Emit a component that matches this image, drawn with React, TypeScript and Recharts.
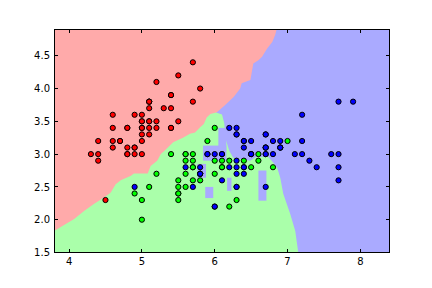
import { Area, CartesianGrid, ComposedChart, Scatter, XAxis, YAxis } from "recharts";

const xTicks = [4, 5, 6, 7, 8];
const yTicks = [1.5, 2.0, 2.5, 3.0, 3.5, 4.0, 4.5];
const xDomain = [3.8, 8.4];
const yDomain = [1.5, 4.9];

// iris: sepal length / sepal width
const setosaLength = [
  5.1, 4.9, 4.7, 4.6, 5.0, 5.4, 4.6, 5.0, 4.4, 4.9, 5.4, 4.8, 4.8, 4.3, 5.8, 5.7, 5.4, 5.1, 5.7, 5.1,
  5.4, 5.1, 4.6, 5.1, 4.8, 5.0, 5.0, 5.2, 5.2, 4.7, 4.8, 5.4, 5.2, 5.5, 4.9, 5.0, 5.5, 4.9, 4.4, 5.1,
  5.0, 4.5, 4.4, 5.0, 5.1, 4.8, 5.1, 4.6, 5.3, 5.0,
];
const setosaWidth = [
  3.5, 3.0, 3.2, 3.1, 3.6, 3.9, 3.4, 3.4, 2.9, 3.1, 3.7, 3.4, 3.0, 3.0, 4.0, 4.4, 3.9, 3.5, 3.8, 3.8,
  3.4, 3.7, 3.6, 3.3, 3.4, 3.0, 3.4, 3.5, 3.4, 3.2, 3.1, 3.4, 4.1, 4.2, 3.1, 3.2, 3.5, 3.6, 3.0, 3.4,
  3.5, 2.3, 3.2, 3.5, 3.8, 3.0, 3.8, 3.2, 3.7, 3.3,
];
const versicolorLength = [
  7.0, 6.4, 6.9, 5.5, 6.5, 5.7, 6.3, 4.9, 6.6, 5.2, 5.0, 5.9, 6.0, 6.1, 5.6, 6.7, 5.6, 5.8, 6.2, 5.6,
  5.9, 6.1, 6.3, 6.1, 6.4, 6.6, 6.8, 6.7, 6.0, 5.7, 5.5, 5.5, 5.8, 6.0, 5.4, 6.0, 6.7, 6.3, 5.6, 5.5,
  5.5, 6.1, 5.8, 5.0, 5.6, 5.7, 5.7, 6.2, 5.1, 5.7,
];
const versicolorWidth = [
  3.2, 3.2, 3.1, 2.3, 2.8, 2.8, 3.3, 2.4, 2.9, 2.7, 2.0, 3.0, 2.2, 2.9, 2.9, 3.1, 3.0, 2.7, 2.2, 2.5,
  3.2, 2.8, 2.5, 2.8, 2.9, 3.0, 2.8, 3.0, 2.9, 2.6, 2.4, 2.4, 2.7, 2.7, 3.0, 3.4, 3.1, 2.3, 3.0, 2.5,
  2.6, 3.0, 2.6, 2.3, 2.7, 3.0, 2.9, 2.9, 2.5, 2.8,
];
const virginicaLength = [
  6.3, 5.8, 7.1, 6.3, 6.5, 7.6, 4.9, 7.3, 6.7, 7.2, 6.5, 6.4, 6.8, 5.7, 5.8, 6.4, 6.5, 7.7, 7.7, 6.0,
  6.9, 5.6, 7.7, 6.3, 6.7, 7.2, 6.2, 6.1, 6.4, 7.2, 7.4, 7.9, 6.4, 6.3, 6.1, 7.7, 6.3, 6.4, 6.0, 6.9,
  6.7, 6.9, 5.8, 6.8, 6.7, 6.7, 6.3, 6.5, 6.2, 5.9,
];
const virginicaWidth = [
  3.3, 2.7, 3.0, 2.9, 3.0, 3.0, 2.5, 2.9, 2.5, 3.6, 3.2, 2.7, 3.0, 2.5, 2.8, 3.2, 3.0, 3.8, 2.6, 2.2,
  3.2, 2.8, 2.8, 2.7, 3.3, 3.2, 2.8, 3.0, 2.8, 3.0, 2.8, 3.8, 2.8, 2.8, 2.6, 3.0, 3.4, 3.1, 3.0, 3.1,
  3.1, 3.1, 2.7, 3.2, 3.3, 3.0, 2.5, 3.0, 3.4, 3.0,
];

// lower edge of the red region (red/green, then red/blue)
const redEdgeX = [
  3.8, 3.885, 4.07, 4.21, 4.34, 4.48, 4.57, 4.64, 4.71, 4.85, 4.89, 5.08, 5.12, 5.21, 5.26, 5.31, 5.43,
  5.57, 5.66, 5.73, 5.8, 5.85, 5.89, 5.94, 6.03, 6.14, 6.26, 6.35, 6.37, 6.49, 6.51, 6.53, 6.6, 6.65,
  6.72, 6.79, 6.83, 6.85,
];
const redEdgeY = [
  1.83, 1.89, 2.01, 2.135, 2.24, 2.34, 2.41, 2.54, 2.6, 2.67, 2.705, 2.705, 2.82, 2.9, 3.0, 3.05, 3.18,
  3.255, 3.31, 3.33, 3.41, 3.46, 3.56, 3.61, 3.64, 3.745, 3.87, 4.0, 4.08, 4.13, 4.255, 4.38, 4.43,
  4.485, 4.61, 4.71, 4.815, 4.9,
];

// upper edge of the green region to the right of the red one
const greenEdgeX = [6.02, 6.1, 6.13, 6.157, 6.2, 6.254, 6.487, 6.57, 6.735, 6.817, 6.858, 6.9, 6.941, 7.037, 7.106, 7.147];
const greenEdgeY = [3.633, 3.603, 3.48, 3.205, 3.052, 2.945, 2.899, 2.96, 2.96, 2.853, 2.792, 2.639, 2.394, 2.088, 1.829, 1.5];

// blue patches inside the green region: [x0, x1, y0, y1]
const blueIslands = [
  [5.84, 6.16, 2.9, 3.13],
  [6.05, 6.16, 3.05, 3.4],
  [5.76, 5.88, 2.64, 2.85],
  [5.87, 5.98, 2.33, 2.5],
  [6.6, 6.71, 2.29, 2.75],
  [6.17, 6.23, 2.44, 2.64],
];

const zip = (xs: number[], ys: number[]) => xs.map((x, i) => ({ x, y: ys[i] }));

const redData = redEdgeX.map((x, i) => ({ x, band: [redEdgeY[i], yDomain[1]] }));
const greenData = [
  { x: xDomain[0], band: [yDomain[0], yDomain[1]] },
  { x: 5.99, band: [yDomain[0], yDomain[1]] },
  ...greenEdgeX.map((x, i) => ({ x, band: [yDomain[0], greenEdgeY[i]] })),
  { x: xDomain[1], band: [yDomain[0], yDomain[0]] },
];
const islandData = blueIslands.map(([x0, x1, y0, y1]) => [
  { x: x0, band: [y0, y1] },
  { x: x1, band: [y0, y1] },
]);

// frame corners and tick anchors on the four sides
const topLeft = [{ x: xDomain[0], y: yDomain[1] }];
const bottomRight = [{ x: xDomain[1], y: yDomain[0] }];
const topTicks = xTicks.map((x) => ({ x, y: yDomain[1] }));
const bottomTicks = xTicks.map((x) => ({ x, y: yDomain[0] }));
const leftTicks = yTicks.map((y) => ({ x: xDomain[0], y }));
const rightTicks = yTicks.map((y) => ({ x: xDomain[1], y }));

// layout
const CHART_W = 432;
const CHART_H = 288;
const margin = { top: 29.5, right: 42.5, bottom: 15.5, left: 14.5 };
const X_AXIS_H = 20;
const Y_AXIS_W = 40;
const PLOT_W = CHART_W - margin.left - margin.right - Y_AXIS_W;
const PLOT_H = CHART_H - margin.top - margin.bottom - X_AXIS_H;

const font = "DejaVu Sans, sans-serif";

const dot = (color: string) => (p: any) =>
  <circle cx={p.cx} cy={p.cy} r={2.6} fill={color} stroke="#000" strokeWidth={1} />;

// filled 1px bars instead of stroked lines
const bar = (dx: number, dy: number, w: number, h: number) => (p: any) =>
  <rect x={Math.floor(p.cx) + dx} y={Math.floor(p.cy) + dy} width={w} height={h} fill="#000" stroke="none" />;

const TopLeftFrame = (p: any) => (
  <g fill="#000" stroke="none">
    <rect x={Math.floor(p.cx)} y={Math.floor(p.cy)} width={PLOT_W + 1} height={1} />
    <rect x={Math.floor(p.cx)} y={Math.floor(p.cy)} width={1} height={PLOT_H + 1} />
  </g>
);
const BottomRightFrame = (p: any) => (
  <g fill="#000" stroke="none">
    <rect x={Math.floor(p.cx) - PLOT_W} y={Math.floor(p.cy)} width={PLOT_W + 1} height={1} />
    <rect x={Math.floor(p.cx)} y={Math.floor(p.cy) - PLOT_H} width={1} height={PLOT_H + 1} />
  </g>
);

const BottomTick = (p: any) => (
  <text x={p.x} y={p.y + 12.5} textAnchor="middle" fontSize={10} fontFamily={font} fill="#000">
    {p.payload.value}
  </text>
);
const LeftTick = (p: any) => (
  <text x={p.x - 4.5} y={p.y + 3.6} textAnchor="end" fontSize={10} fontFamily={font} fill="#000">
    {p.payload.value.toFixed(1)}
  </text>
);

export default function App() {
  return (
    <div style={{ position: "absolute", left: 0, top: 0, width: CHART_W, height: CHART_H, background: "#fff" }}>
      <ComposedChart width={CHART_W} height={CHART_H} margin={margin}>
        <CartesianGrid fill="#AAAAFF" stroke="none" />
        <Area data={greenData} dataKey="band" type="linear" stroke="none" fill="#AAFFAA" fillOpacity={1} isAnimationActive={false} />
        <Area data={redData} dataKey="band" type="linear" stroke="none" fill="#FFAAAA" fillOpacity={1} isAnimationActive={false} />
        {islandData.map((d, i) => (
          <Area key={i} data={d} dataKey="band" type="linear" stroke="none" fill="#AAAAFF" fillOpacity={1} isAnimationActive={false} />
        ))}
        <Scatter data={zip(setosaLength, setosaWidth)} shape={dot("#FF0000")} isAnimationActive={false} />
        <Scatter data={zip(versicolorLength, versicolorWidth)} shape={dot("#00FF00")} isAnimationActive={false} />
        <Scatter data={zip(virginicaLength, virginicaWidth)} shape={dot("#0000FF")} isAnimationActive={false} />
        <Scatter data={topTicks} shape={bar(0, 0, 1, 4)} isAnimationActive={false} />
        <Scatter data={bottomTicks} shape={bar(0, -3, 1, 4)} isAnimationActive={false} />
        <Scatter data={leftTicks} shape={bar(0, 0, 4, 1)} isAnimationActive={false} />
        <Scatter data={rightTicks} shape={bar(-3, 0, 4, 1)} isAnimationActive={false} />
        <Scatter data={topLeft} shape={TopLeftFrame} isAnimationActive={false} />
        <Scatter data={bottomRight} shape={BottomRightFrame} isAnimationActive={false} />
        <XAxis type="number" dataKey="x" domain={xDomain} ticks={xTicks} height={X_AXIS_H}
          axisLine={false} tickLine={false} tickSize={0} tickMargin={0} tick={BottomTick} />
        <YAxis type="number" dataKey="y" domain={yDomain} ticks={yTicks} width={Y_AXIS_W}
          axisLine={false} tickLine={false} tickSize={0} tickMargin={0} tick={LeftTick} />
      </ComposedChart>
    </div>
  );
}
